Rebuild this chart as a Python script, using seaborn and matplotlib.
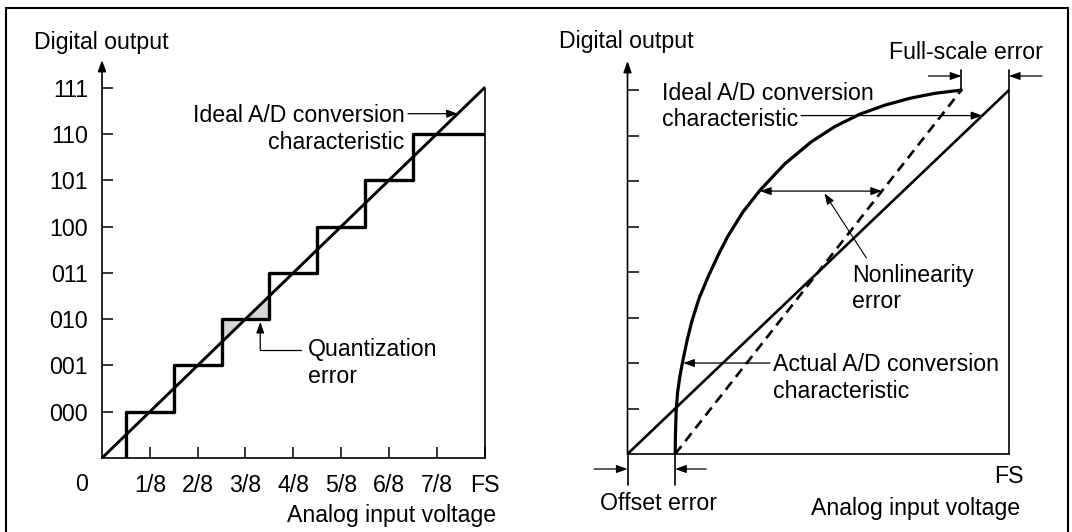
import matplotlib
matplotlib.use("Agg")
import matplotlib.pyplot as plt
from matplotlib.lines import Line2D
import seaborn as sns

# ---- data -------------------------------------------------------------
# Left panel: 3-bit converter, input in eighths of full scale
code_levels = [1, 2, 3, 4, 5, 6, 7, 8]
code_labels = ["000", "001", "010", "011", "100", "101", "110", "111"]
input_ticks = [1, 2, 3, 4, 5, 6, 7, 8]
input_labels = ["1/8", "2/8", "3/8", "4/8", "5/8", "6/8", "7/8", "FS"]

ideal_x = [0, 8]
ideal_y = [0, 8]

stair_x = [0.5, 0.5, 1.5, 2.5, 3.5, 4.5, 5.5, 6.5, 8.0]
stair_y = [0, 1, 2, 3, 4, 5, 6, 7, 7]

# shaded quantization error around code 010
qerr_x = [2.5, 3.5]
qerr_line = [2.5, 3.5]
qerr_level = 3

# Right panel: error sources
offset_err = 1.0
fullscale_end = 7.0
shifted_x = [offset_err, fullscale_end]
shifted_y = [0, 8]

actual_x = [1.00, 1.005, 1.02, 1.05, 1.10, 1.17, 1.25, 1.35, 1.50, 1.70, 1.90,
            2.10, 2.42, 2.78, 3.30, 3.85, 4.35, 4.87, 5.40, 5.92, 6.45, 7.00]
actual_y = [0.00, 0.40, 0.95, 1.35, 1.72, 2.10, 2.50, 2.92, 3.42, 3.92, 4.37,
            4.78, 5.32, 5.80, 6.38, 6.86, 7.20, 7.47, 7.67, 7.82, 7.93, 8.00]

nonlin_y = 5.78
nonlin_left = 2.78
nonlin_right = offset_err + (fullscale_end - offset_err) * nonlin_y / 8

# ---- style ------------------------------------------------------------
sns.set_theme(style="white")
plt.rcParams["font.family"] = ["Liberation Sans", "DejaVu Sans"]
plt.rcParams["text.color"] = "black"
FS = 16.7

W, H = 1072, 532
fig = plt.figure(figsize=(W / 100, H / 100), dpi=100)
fig.patch.set_facecolor("white")

axL = fig.add_axes([102 / W, (H - 458) / H, 382.5 / W, 398 / H])
axR = fig.add_axes([627.5 / W, (H - 454) / H, 381.5 / W, 393 / H])

ARROW = "-|>,head_length=0.55,head_width=0.2"


def arrow(ax, tail, tip, style=ARROW, lw=0.9):
    ax.annotate("", xy=tip, xytext=tail, annotation_clip=False,
                arrowprops=dict(arrowstyle=style, color="black", lw=lw,
                                shrinkA=0, shrinkB=0, mutation_scale=12))


def frame_axes(ax, ytop):
    for side in ("top", "right", "left"):
        ax.spines[side].set_visible(False)
    ax.spines["bottom"].set_color("black")
    ax.spines["bottom"].set_linewidth(1.2)
    ax.set_xlim(0, 8)
    ax.set_ylim(0, ytop)
    ax.set_facecolor("none")
    # vertical axis with arrow head
    arrow(ax, (0, 0), (0, ytop), lw=1.2)


# ---- left panel: quantization error ------------------------------------
frame_axes(axL, 8.6)

axL.fill_between(qerr_x, qerr_line, qerr_level, color="#d6d6d6", lw=0, zorder=1)
sns.lineplot(x=ideal_x, y=ideal_y, ax=axL, color="black", lw=2.1,
             estimator=None, sort=False, zorder=3)
sns.lineplot(x=stair_x, y=stair_y, ax=axL, color="black", lw=2.4,
             estimator=None, sort=False, drawstyle="steps-post", zorder=3)
axL.plot([8, 8], [0, 8], color="black", lw=1.2, clip_on=False)

axL.set_yticks(code_levels, code_labels)
axL.set_xticks(input_ticks, input_labels)
axL.tick_params(axis="y", direction="in", length=7.7, width=1.1, pad=10,
                labelsize=FS, left=True, colors="black")
axL.tick_params(axis="x", direction="in", length=7.7, width=1.1, pad=11.5,
                labelsize=FS, bottom=True, colors="black")
axL.set_xlabel("")
axL.set_ylabel("")

axL.text(-1.414, 8.84, "Digital output", fontsize=FS, ha="left", va="baseline")
axL.text(-0.42, -0.71, "0", fontsize=FS, ha="center", va="baseline")
axL.text(6.06, -1.38, "Analog input voltage", fontsize=FS, ha="center", va="baseline")

axL.text(6.33, 7.27, "Ideal A/D conversion", fontsize=FS, ha="right", va="baseline")
axL.text(6.33, 6.67, "characteristic", fontsize=FS, ha="right", va="baseline")
arrow(axL, (6.40, 7.44), (7.44, 7.44))

axL.text(4.30, 2.21, "Quantization", fontsize=FS, ha="left", va="baseline")
axL.text(4.30, 1.61, "error", fontsize=FS, ha="left", va="baseline")
axL.plot([4.155, 3.31], [2.34, 2.34], color="black", lw=0.9)
arrow(axL, (3.31, 2.34), (3.31, 2.94))

# ---- right panel: offset, full-scale and nonlinearity errors -----------
frame_axes(axR, 8.64)

sns.lineplot(x=ideal_x, y=ideal_y, ax=axR, color="black", lw=1.9,
             estimator=None, sort=False, zorder=3)
sns.lineplot(x=shifted_x, y=shifted_y, ax=axR, color="black", lw=1.9,
             estimator=None, sort=False, zorder=3)
axR.lines[-1].set_dashes((3.8, 2.4))
sns.lineplot(x=actual_x, y=actual_y, ax=axR, color="black", lw=2.3,
             estimator=None, sort=False, zorder=3)

axR.set_yticks(code_levels, [""] * len(code_levels))
axR.set_xticks([8], ["FS"])
axR.tick_params(axis="y", direction="in", length=8, width=1.1, left=True,
                colors="black")
axR.tick_params(axis="x", length=0, pad=8, labelsize=FS, colors="black")
axR.set_xlabel("")
axR.set_ylabel("")

# full-scale end line and markers
axR.plot([8, 8], [0, 8.44], color="black", lw=1.2, clip_on=False)
axR.plot([fullscale_end, fullscale_end], [8.0, 8.44], color="black", lw=1.2,
         clip_on=False)
arrow(axR, (6.31, 8.31), (fullscale_end, 8.31))
arrow(axR, (8.69, 8.31), (8, 8.31))
axR.text(5.48, 8.68, "Full-scale error", fontsize=FS, ha="left", va="baseline")

# offset markers
axR.plot([0, 0], [0, -0.68], color="black", lw=1.2, clip_on=False)
axR.plot([offset_err, offset_err], [0, -0.68], color="black", lw=1.2,
         clip_on=False)
arrow(axR, (-0.70, -0.33), (0, -0.33))
arrow(axR, (1.65, -0.33), (offset_err, -0.33))
axR.text(0.65, -1.23, "Offset error", fontsize=FS, ha="center", va="baseline")

axR.text(-1.436, 8.92, "Digital output", fontsize=FS, ha="left", va="baseline")
axR.text(6.05, -1.34, "Analog input voltage", fontsize=FS, ha="center",
         va="baseline")

axR.text(0.713, 7.79, "Ideal A/D conversion", fontsize=FS, ha="left", va="baseline")
axR.text(0.713, 7.21, "characteristic", fontsize=FS, ha="left", va="baseline")
arrow(axR, (3.64, 7.44), (7.44, 7.44))

axR.text(3.05, 1.82, "Actual A/D conversion", fontsize=FS, ha="left", va="baseline")
axR.text(3.05, 1.23, "characteristic", fontsize=FS, ha="left", va="baseline")
arrow(axR, (2.99, 2.0), (1.17, 2.0))

arrow(axR, (nonlin_left, nonlin_y), (nonlin_right, nonlin_y),
      style="<|-|>,head_length=0.55,head_width=0.2")
arrow(axR, (5.01, 4.31), (4.13, 5.73), lw=0.8)
axR.text(4.71, 3.78, "Nonlinearity", fontsize=FS, ha="left", va="baseline")
axR.text(4.71, 3.21, "error", fontsize=FS, ha="left", va="baseline")

# outer border (open at the bottom)
x0, x1, ytop = 6 / W, 1068 / W, 1 - 8 / H
for xs, ys in (([x0, x0], [0, ytop]), ([x1, x1], [0, ytop]), ([x0, x1], [ytop, ytop])):
    fig.add_artist(Line2D(xs, ys, transform=fig.transFigure, color="black", lw=1.5))

fig.savefig("out.png", dpi=100)
